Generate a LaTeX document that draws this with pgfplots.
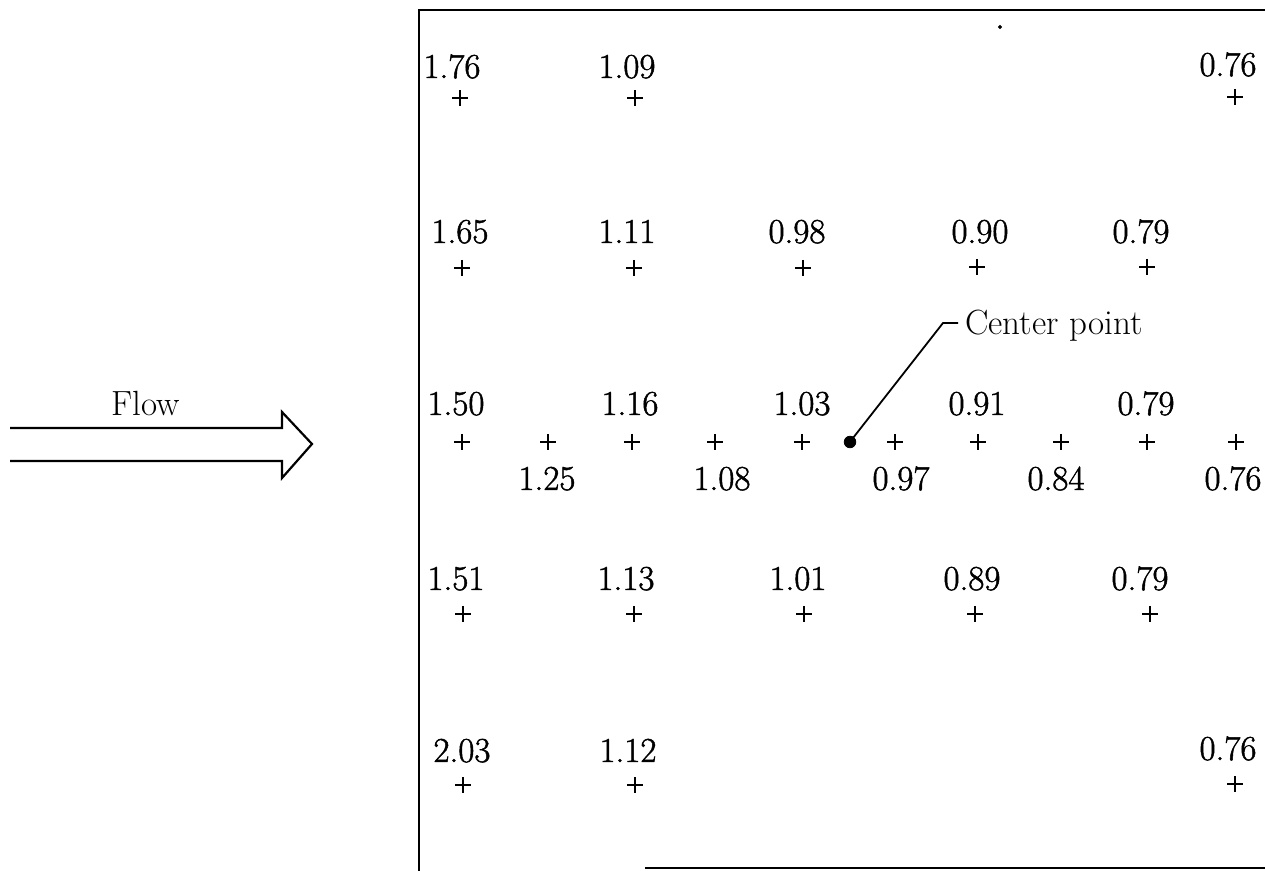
\documentclass[border=0pt]{standalone}
\usepackage{fontspec}
\usepackage{pgfplots}
\pgfplotsset{compat=1.18}
\newfontface\lbfont{Latin Modern Roman}[FakeBold=1.4]
\pgfplotstableread{
x y
460 98
635 98
1235 97
462 268
634 268
803 268
977 267
1147 267
462 442
548 442
632 442
715 442
802 442
895 442
978 442
1061 442
1147 442
1236 442
463 614
634 614
804 614
975 614
1150 614
463 785
635 785
1235 784
}\pluses
\pgfplotstableread{
x y label
452 78 1.76
627 78 1.09
1228 76 0.76
460 243 1.65
627 243 1.11
797 243 0.98
980 243 0.90
1141 243 0.79
456 415 1.50
630 415 1.16
802 415 1.03
977 415 0.91
1146 415 0.79
547 490 1.25
722 490 1.08
901 490 0.97
1056 490 0.84
1233 490 0.76
456 590 1.51
626 590 1.13
798 590 1.01
972 590 0.89
1140 590 0.79
462 762 2.03
628 762 1.12
1228 760 0.76
}\labels
\begin{document}
\begin{tikzpicture}
\begin{axis}[x=0.5pt, y=0.5pt, y dir=reverse,
  xmin=0, xmax=1265, ymin=0, ymax=871,
  hide axis, clip=false]
% frame
\addplot[black, line width=1.4pt] coordinates {(1265,10) (419,10) (419,871)};
\addplot[black, line width=1.4pt] coordinates {(645,868) (1265,868)};
% flow arrow
\addplot[black, line width=1.1pt, line join=miter] coordinates {(10,428) (282,428) (282,412) (312,444) (282,478) (282,461) (10,461)};
% measurement points
\addplot[only marks, mark=+, mark size=4pt, mark options={line width=0.9pt, black}] table[x=x, y=y] {\pluses};
% values
\addplot[draw=none, nodes near coords, point meta=explicit symbolic,
  nodes near coords style={anchor=base, inner sep=0pt, font=\lbfont\fontsize{17.5}{20}\selectfont, text=black}]
  table[x=x, y=y, meta=label] {\labels};
% center point
\addplot[only marks, mark=*, mark size=2.9pt, black] coordinates {(850,442)};
\addplot[black, line width=0.9pt] coordinates {(958,323) (943,323) (853,438)};
% stray speck
\addplot[only marks, mark=*, mark size=0.8pt, black] coordinates {(1000,27)};
\node[anchor=base west, inner sep=0pt, font=\fontsize{17.5}{20}\selectfont] at (axis cs:965,335) {Center point};
\node[anchor=base, inner sep=0pt, font=\fontsize{17.5}{20}\selectfont] at (axis cs:146,416) {Flow};
\end{axis}
\pgfresetboundingbox
\path[use as bounding box] (current axis.south west) rectangle (current axis.north east);
\end{tikzpicture}
\end{document}
